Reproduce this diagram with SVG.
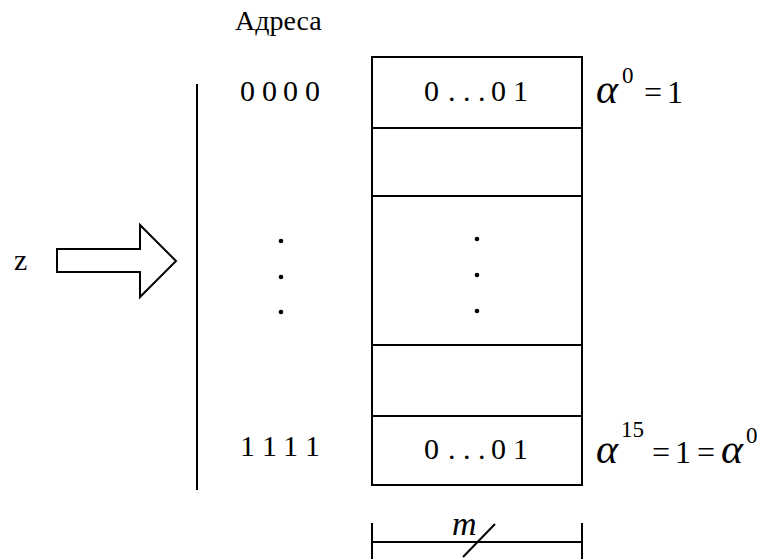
<svg xmlns="http://www.w3.org/2000/svg" width="762" height="559" viewBox="0 0 762 559">
  <style>
    .t { font-family: "Liberation Serif", "Times New Roman", serif; fill: #000; }
    .n { font-size: 30px; }
    .m { font-size: 32px; }
    .a { font-style: italic; font-size: 42px; }
    .s { font-size: 23px; }
    .i { font-style: italic; }
    .ln { stroke: #000; stroke-width: 2; fill: none; }
  </style>
  <rect width="762" height="559" fill="#fff"/>

  <!-- header -->
  <text class="t" x="235" y="30" font-size="28">Адреса</text>

  <!-- address bus line -->
  <g id="bus">
    <line class="ln" x1="197" y1="84" x2="197" y2="490"/>
  </g>

  <!-- input arrow -->
  <g id="input">
    <text class="t" x="14" y="270" font-size="30">z</text>
    <polygon class="ln" points="57,249 140,249 140,225 176,261 140,297 140,272 57,272"/>
  </g>

  <!-- address labels -->
  <g id="addresses">
    <text class="t n" x="240 262 283 305" y="101">0000</text>
    <circle cx="281" cy="241" r="2.3"/>
    <circle cx="281" cy="277" r="2.3"/>
    <circle cx="281" cy="312" r="2.3"/>
    <text class="t n" x="240 262 283 305" y="456">1111</text>
  </g>

  <!-- memory table -->
  <g id="memory">
    <rect class="ln" x="372" y="57" width="210" height="428"/>
    <line class="ln" x1="372" y1="128" x2="582" y2="128"/>
    <line class="ln" x1="372" y1="196" x2="582" y2="196"/>
    <line class="ln" x1="372" y1="345" x2="582" y2="345"/>
    <line class="ln" x1="372" y1="416" x2="582" y2="416"/>
    <text class="t n" x="424 448 463 478 491 513" y="101">0...01</text>
    <circle cx="477" cy="239" r="2.3"/>
    <circle cx="477" cy="275" r="2.3"/>
    <circle cx="477" cy="311" r="2.3"/>
    <text class="t n" x="424 448 463 478 491 513" y="459">0...01</text>
  </g>

  <!-- value annotations -->
  <g id="alpha0">
    <text class="t a" x="596" y="103">α</text>
    <text class="t s" x="622" y="83">0</text>
    <text class="t m" x="644 667" y="103">=1</text>
  </g>
  <g id="alpha15">
    <text class="t a" x="596" y="463">α</text>
    <text class="t s" x="621" y="437">15</text>
    <text class="t m" x="652 675 697" y="463">=1=</text>
    <text class="t a" x="721" y="463">α</text>
    <text class="t s" x="746" y="443">0</text>
  </g>

  <!-- word width bracket -->
  <g id="width">
    <line class="ln" x1="372" y1="542" x2="582" y2="542"/>
    <line class="ln" x1="372" y1="523" x2="372" y2="559"/>
    <line class="ln" x1="582" y1="523" x2="582" y2="559"/>
    <line class="ln" x1="463" y1="557" x2="495" y2="524"/>
    <text class="t i" x="452" y="535" font-size="34">m</text>
  </g>
</svg>
